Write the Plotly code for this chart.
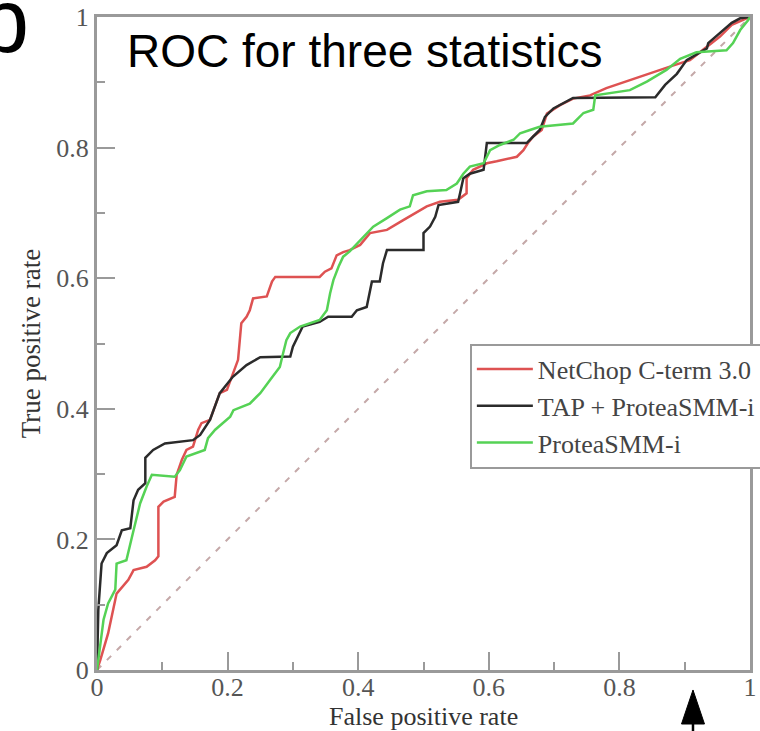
import plotly.graph_objects as go

# ROC curves (false positive rate, true positive rate) for three predictors
netchop_fpr = [0, 0.005, 0.017, 0.030, 0.048, 0.056, 0.076, 0.089, 0.094, 0.094, 0.102, 0.119,
               0.122, 0.130, 0.137, 0.147, 0.155, 0.160, 0.173, 0.188, 0.199, 0.209, 0.216, 0.221,
               0.229, 0.234, 0.239, 0.260, 0.268, 0.273, 0.341, 0.349, 0.359, 0.367, 0.377, 0.387,
               0.403, 0.418, 0.444, 0.469, 0.505, 0.525, 0.553, 0.566, 0.566, 0.576, 0.597, 0.612,
               0.643, 0.653, 0.660, 0.668, 0.681, 0.689, 0.709, 0.729, 0.755, 0.780, 0.832, 0.883,
               0.908, 0.934, 0.954, 0.972, 0.997, 1.0]
netchop_tpr = [0, 0.015, 0.056, 0.117, 0.138, 0.153, 0.158, 0.168, 0.174, 0.250, 0.258, 0.265,
               0.299, 0.322, 0.337, 0.342, 0.368, 0.378, 0.383, 0.424, 0.429, 0.455, 0.475, 0.531,
               0.541, 0.551, 0.569, 0.572, 0.595, 0.602, 0.602, 0.610, 0.615, 0.635, 0.640, 0.643,
               0.651, 0.669, 0.674, 0.689, 0.710, 0.717, 0.720, 0.730, 0.753, 0.766, 0.776, 0.779,
               0.786, 0.796, 0.807, 0.817, 0.827, 0.852, 0.865, 0.875, 0.880, 0.891, 0.909, 0.926,
               0.934, 0.954, 0.970, 0.988, 0.998, 1.0]

tap_fpr = [0, 0.002, 0.007, 0.015, 0.030, 0.038, 0.051, 0.056, 0.063, 0.074, 0.074, 0.086,
           0.104, 0.147, 0.158, 0.173, 0.188, 0.208, 0.229, 0.250, 0.296, 0.300, 0.315, 0.341,
           0.354, 0.390, 0.398, 0.413, 0.421, 0.433, 0.438, 0.444, 0.500, 0.500, 0.510, 0.518,
           0.523, 0.553, 0.556, 0.561, 0.571, 0.592, 0.597, 0.658, 0.668, 0.678, 0.686, 0.699,
           0.729, 0.855, 0.870, 0.888, 0.903, 0.934, 0.936, 0.954, 0.972, 0.985, 1.0]
tap_tpr = [0, 0.092, 0.163, 0.179, 0.191, 0.214, 0.217, 0.260, 0.276, 0.286, 0.325, 0.337,
           0.347, 0.352, 0.360, 0.383, 0.424, 0.449, 0.467, 0.479, 0.480, 0.495, 0.526, 0.533,
           0.541, 0.541, 0.551, 0.556, 0.595, 0.595, 0.623, 0.643, 0.643, 0.669, 0.679, 0.694,
           0.712, 0.717, 0.730, 0.753, 0.760, 0.766, 0.807, 0.807, 0.817, 0.827, 0.847, 0.860,
           0.876, 0.877, 0.896, 0.913, 0.934, 0.952, 0.960, 0.975, 0.991, 0.998, 1.0]

protea_fpr = [0, 0.002, 0.010, 0.017, 0.028, 0.030, 0.045, 0.056, 0.066, 0.076, 0.084, 0.119,
              0.127, 0.137, 0.150, 0.165, 0.170, 0.181, 0.204, 0.209, 0.234, 0.250, 0.265, 0.280,
              0.285, 0.290, 0.296, 0.311, 0.341, 0.352, 0.357, 0.362, 0.370, 0.377, 0.387, 0.403,
              0.423, 0.444, 0.464, 0.479, 0.484, 0.505, 0.535, 0.551, 0.561, 0.571, 0.592, 0.602,
              0.617, 0.638, 0.648, 0.663, 0.678, 0.729, 0.745, 0.760, 0.763, 0.816, 0.842, 0.872,
              0.893, 0.918, 0.964, 0.974, 0.985, 0.997, 1.0]
protea_tpr = [0, 0.015, 0.077, 0.102, 0.123, 0.163, 0.168, 0.214, 0.255, 0.281, 0.299, 0.296,
              0.306, 0.327, 0.332, 0.337, 0.355, 0.368, 0.388, 0.398, 0.408, 0.424, 0.444, 0.464,
              0.485, 0.505, 0.516, 0.526, 0.536, 0.551, 0.577, 0.597, 0.618, 0.633, 0.641, 0.658,
              0.679, 0.692, 0.705, 0.710, 0.727, 0.733, 0.735, 0.745, 0.760, 0.771, 0.776, 0.796,
              0.804, 0.812, 0.822, 0.827, 0.832, 0.837, 0.853, 0.858, 0.880, 0.888, 0.901, 0.919,
              0.936, 0.946, 0.949, 0.960, 0.980, 0.995, 1.0]

# random-guess reference line
chance_fpr = [0, 1]
chance_tpr = [0, 1]

series_names = ["NetChop C-term 3.0", "TAP + ProteaSMM-i", "ProteaSMM-i"]
tick_vals = [0, 0.2, 0.4, 0.6, 0.8, 1]
tick_text = ["0", "0.2", "0.4", "0.6", "0.8", "1"]

SERIF = "Liberation Serif, Times New Roman, serif"
SANS = "Liberation Sans, Arial, Helvetica, sans-serif"
AXIS_GREY = "#9a9a9a"

fig = go.Figure()

fig.add_trace(go.Scatter(
    x=chance_fpr, y=chance_tpr, mode="lines", showlegend=False, hoverinfo="skip",
    line=dict(color="#c4a8a8", width=2, dash="6px,8px"),
))

for name, fpr, tpr, color in [
    (series_names[0], netchop_fpr, netchop_tpr, "#de5252"),
    (series_names[1], tap_fpr, tap_tpr, "#2b2b2b"),
    (series_names[2], protea_fpr, protea_tpr, "#55d255"),
]:
    fig.add_trace(go.Scatter(
        x=fpr, y=tpr, mode="lines", name=name,
        line=dict(color=color, width=2.5),
    ))

axis_common = dict(
    range=[0, 1],
    showgrid=False,
    zeroline=False,
    showline=True,
    mirror=True,
    linecolor=AXIS_GREY,
    linewidth=3,
    ticks="inside",
    ticklen=18,
    tickwidth=2,
    tickcolor=AXIS_GREY,
    tickvals=tick_vals,
    ticktext=tick_text,
    tickfont=dict(family=SERIF, size=26, color="#555555"),
    minor=dict(dtick=0.1, ticks="inside", ticklen=8, tickwidth=2, tickcolor=AXIS_GREY),
)

fig.update_xaxes(**axis_common, ticklabelstandoff=-8)
fig.update_yaxes(
    **axis_common,
    title=dict(text="True positive rate", font=dict(family=SERIF, size=27, color="#333333"),
               standoff=8),
)

fig.update_layout(
    width=760,
    height=731,
    autosize=False,
    margin=dict(l=97, r=10, t=17, b=61, autoexpand=False),
    paper_bgcolor="white",
    plot_bgcolor="white",
    legend=dict(
        x=0.571, y=0.50, xanchor="left", yanchor="top",
        bgcolor="white", bordercolor=AXIS_GREY, borderwidth=2,
        font=dict(family=SERIF, size=26, color="#444444"),
        itemwidth=56,
        tracegroupgap=0,
    ),
    annotations=[
        # x-axis title
        dict(text="False positive rate", xref="paper", yref="paper",
             x=0.5, y=-0.0715, xanchor="center", yanchor="middle", showarrow=False,
             font=dict(family=SERIF, size=26, color="#333333")),
        dict(text="ROC for three statistics", xref="paper", yref="paper",
             x=0.043, y=0.948, xanchor="left", yanchor="middle", showarrow=False,
             font=dict(family=SANS, size=46, color="black")),
        dict(text="b", xref="paper", yref="paper",
             x=-0.184, y=0.994, xanchor="left", yanchor="middle", showarrow=False,
             font=dict(family=SANS, size=90, color="black")),
    ],
    shapes=[
        # upward pointer below the x axis
        dict(type="line", xref="paper", yref="paper",
             x0=0.9127, x1=0.9127, y0=-0.080, y1=-0.11,
             line=dict(color="black", width=2.5)),
        dict(type="path", xref="paper", yref="paper",
             path="M 0.8951,-0.0827 L 0.9303,-0.0827 L 0.9127,-0.0306 Z",
             fillcolor="black", line=dict(color="black", width=1)),
    ],
)

fig.write_html("out.html")
